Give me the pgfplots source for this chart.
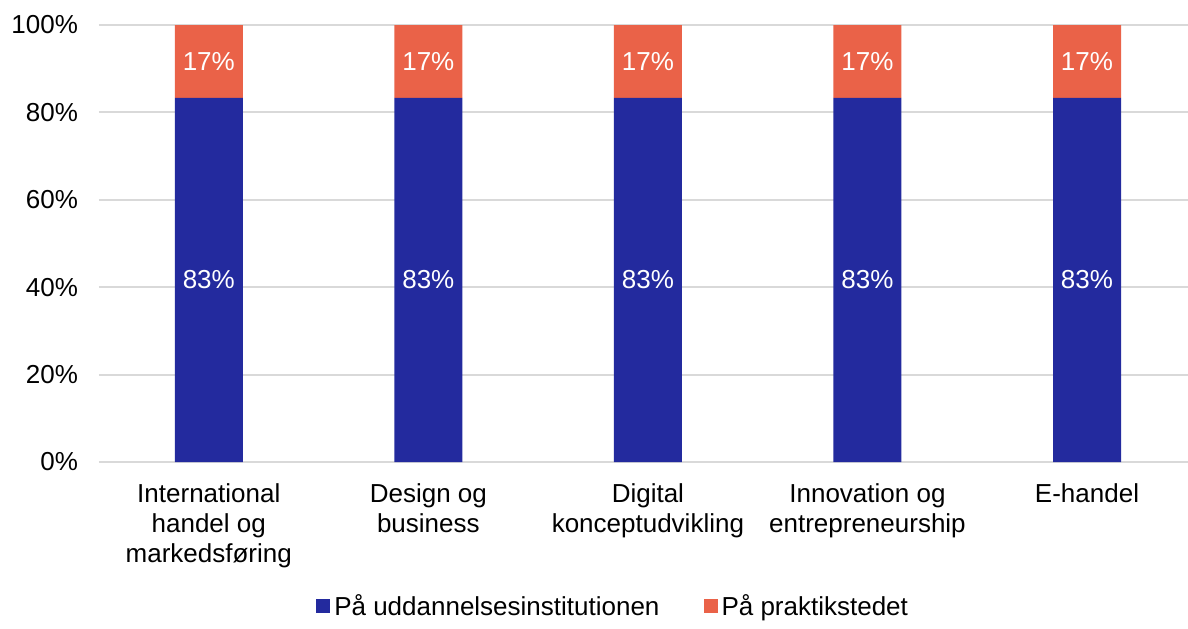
\documentclass[border=0pt]{standalone}
\usepackage{fontspec}
\setmainfont{Liberation Sans}
\usepackage{pgfplots}
\pgfplotsset{compat=1.18}
\usetikzlibrary{calc}
\definecolor{instblue}{RGB}{35,42,158}
\definecolor{praktorange}{RGB}{234,98,72}
\definecolor{gridgray}{RGB}{217,217,217}
\begin{document}
\begin{tikzpicture}
\begin{axis}[
  scale only axis, width=544.5pt, height=218.5pt,
  ybar stacked, bar width=34pt,
  xmin=-0.5, xmax=4.46, ymin=0, ymax=100,
  xtick={0,1,2,3,4},
  xticklabels={International\\handel og\\markedsføring, Design og\\business, Digital\\konceptudvikling, Innovation og\\entrepreneurship, E-handel},
  ytick={0,20,40,60,80,100},
  yticklabel={\pgfmathprintnumber{\tick}\%},
  /pgf/number format/assume math mode=true,
  axis line style={draw=none}, major tick length=0pt,
  ymajorgrids, grid style={gridgray, line width=1pt},
  font=\fontsize{13pt}{15pt}\selectfont,
  xticklabel style={align=center, yshift=-7.5pt},
  yticklabel style={xshift=-7pt},
  nodes near coords={\pgfmathprintnumber[fixed,precision=0]{\pgfplotspointmeta}\%},
  every node near coord/.append style={white, anchor=center},
  legend columns=2,
  legend style={draw=none, at={(0.473,-0.33)}, anchor=center, font=\fontsize{13pt}{15pt}\selectfont,
    /tikz/every even column/.append style={column sep=20pt}},
  legend image code/.code={\fill[#1] (-2pt,-3.5pt) rectangle (5pt,3.5pt);},
]
\addplot[fill=instblue, draw=none] coordinates {(0,83.33) (1,83.33) (2,83.33) (3,83.33) (4,83.33)};
\addplot[fill=praktorange, draw=none] coordinates {(0,16.67) (1,16.67) (2,16.67) (3,16.67) (4,16.67)};
\legend{På uddannelsesinstitutionen, På praktikstedet}
\end{axis}
\pgfresetboundingbox
\path[use as bounding box] ($(current axis.south west)+(-49.5pt,-83pt)$) rectangle ($(current axis.north east)+(0pt,12.5pt)$);
\end{tikzpicture}
\end{document}
